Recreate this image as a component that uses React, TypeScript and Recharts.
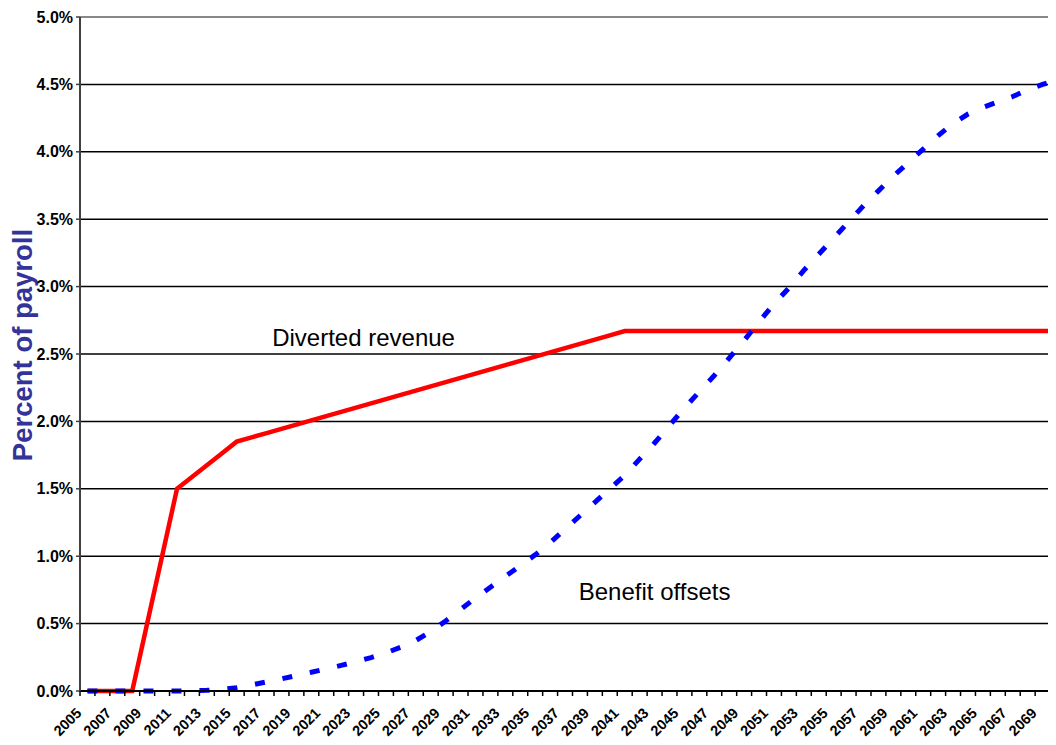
import React from 'react';
import { LineChart, Line, XAxis, YAxis, CartesianGrid, ReferenceLine, ReferenceDot, Label } from 'recharts';

// 2005..2070, one category per year
const YEARS: number[] = Array.from({ length: 66 }, (_, i) => 2005 + i);

// Diverted revenue, % of payroll
const DIVERTED: number[] = [
  0, 0, 0, 0, 0.5, 1.0, 1.5, 1.5875, 1.675, 1.7625, 1.85,
  1.882, 1.913, 1.945, 1.976, 2.008, 2.039, 2.071, 2.102, 2.134, 2.165, 2.197, 2.228, 2.26,
  2.292, 2.323, 2.355, 2.386, 2.418, 2.449, 2.481, 2.512, 2.544, 2.575, 2.607, 2.638, 2.67,
  2.67, 2.67, 2.67, 2.67, 2.67, 2.67, 2.67, 2.67, 2.67, 2.67, 2.67, 2.67, 2.67, 2.67,
  2.67, 2.67, 2.67, 2.67, 2.67, 2.67, 2.67, 2.67, 2.67, 2.67, 2.67, 2.67, 2.67, 2.67, 2.67,
];

// Benefit offsets, % of payroll
const OFFSETS: number[] = [
  0, 0, 0, 0, 0, 0, 0,
  0.002, 0.005, 0.012, 0.025, 0.045, 0.067, 0.09, 0.114, 0.139, 0.164, 0.19, 0.218,
  0.248, 0.283, 0.325, 0.375, 0.44, 0.52,
  0.605, 0.69, 0.77, 0.85, 0.93, 1.01, 1.1, 1.2, 1.3, 1.4, 1.5, 1.6, 1.72, 1.84,
  1.97, 2.1, 2.22, 2.34, 2.47, 2.6, 2.74, 2.87, 2.99, 3.12, 3.24, 3.36, 3.48,
  3.6, 3.71, 3.82, 3.92, 4.02, 4.12, 4.21, 4.28, 4.33, 4.37, 4.41, 4.46, 4.5, 4.53,
];

const Y_TICKS = [0, 0.5, 1, 1.5, 2, 2.5, 3, 3.5, 4, 4.5, 5];

// tick marks sit between categories, labels on every other year
const BOUNDARIES = [...YEARS.map((y) => y - 0.5), YEARS[YEARS.length - 1] + 0.5];
const LABEL_YEARS = YEARS.filter((y) => y % 2 === 1);
const X_TICKS = [...BOUNDARIES, ...LABEL_YEARS].sort((a, b) => a - b);

const data = YEARS.map((year, i) => ({
  year,
  diverted: DIVERTED[i],
  offsets: OFFSETS[i],
}));

const FONT = '"Liberation Sans", Arial, sans-serif';

const XTick = (props: any) => {
  const { x, y, payload } = props;
  const v = payload.value as number;
  if (v % 1 !== 0) {
    return <line x1={x} y1={y} x2={x} y2={y + 5} stroke="#000" strokeWidth={1.5} />;
  }
  return (
    <g transform={`translate(${x - 5},${y + 23}) rotate(-45)`}>
      <text x={0} y={0} textAnchor="end" fontSize={14.5} fontWeight="bold" fill="#000" fontFamily={FONT}>
        {v}
      </text>
    </g>
  );
};

const YTitle = (props: any) => {
  const vb = props.viewBox || { x: 0, y: 0, width: 0, height: 0 };
  const cx = vb.x + 32;
  const cy = vb.y + vb.height / 2 - 9;
  return (
    <text
      x={cx}
      y={cy}
      transform={`rotate(-90 ${cx} ${cy})`}
      textAnchor="middle"
      fontSize={27.5}
      fontWeight="bold"
      fill="#333399"
      fontFamily={FONT}
    >
      Percent of payroll
    </text>
  );
};

const App: React.FC = () => (
  <div style={{ margin: '-8px', width: 1056, height: 745, overflow: 'hidden', fontFamily: FONT, background: '#fff' }}>
    <LineChart width={1065} height={745} data={data} margin={{ top: 17, right: 0, left: 0, bottom: 0 }}>
      <CartesianGrid vertical={false} stroke="#000" strokeWidth={1.5} />
      <XAxis
        dataKey="year"
        type="number"
        domain={[2004.5, 2070.5]}
        ticks={X_TICKS}
        interval={0}
        tickLine={false}
        tickSize={0}
        tickMargin={0}
        axisLine={{ stroke: '#000', strokeWidth: 2 }}
        tick={<XTick />}
        height={54}
      />
      <YAxis
        type="number"
        domain={[0, 5]}
        ticks={Y_TICKS}
        interval={0}
        width={80}
        tickSize={4}
        tickMargin={3}
        axisLine={{ stroke: '#404040', strokeWidth: 2 }}
        tickLine={{ stroke: '#404040', strokeWidth: 1.5 }}
        tick={{ fontSize: 16, fontWeight: 'bold', fill: '#000', fontFamily: FONT }}
        tickFormatter={(v: number) => `${v.toFixed(1)}%`}
      >
        <Label content={<YTitle />} />
      </YAxis>
      <ReferenceLine y={5} stroke="#888" strokeWidth={2} />
      <Line
        type="linear"
        dataKey="diverted"
        stroke="#FF0000"
        strokeWidth={4.5}
        dot={false}
        activeDot={false}
        isAnimationActive={false}
      />
      <Line
        type="linear"
        dataKey="offsets"
        stroke="#0000FF"
        strokeWidth={5}
        strokeDasharray="10 18"
        dot={false}
        activeDot={false}
        isAnimationActive={false}
      />
      <ReferenceDot
        x={2023.5}
        y={2.62}
        r={0}
        fill="none"
        stroke="none"
        label={{ value: 'Diverted revenue', position: 'center', fontSize: 24, fill: '#000', fontFamily: FONT }}
      />
      <ReferenceDot
        x={2043}
        y={0.74}
        r={0}
        fill="none"
        stroke="none"
        label={{ value: 'Benefit offsets', position: 'center', fontSize: 24, fill: '#000', fontFamily: FONT }}
      />
    </LineChart>
  </div>
);

export default App;
